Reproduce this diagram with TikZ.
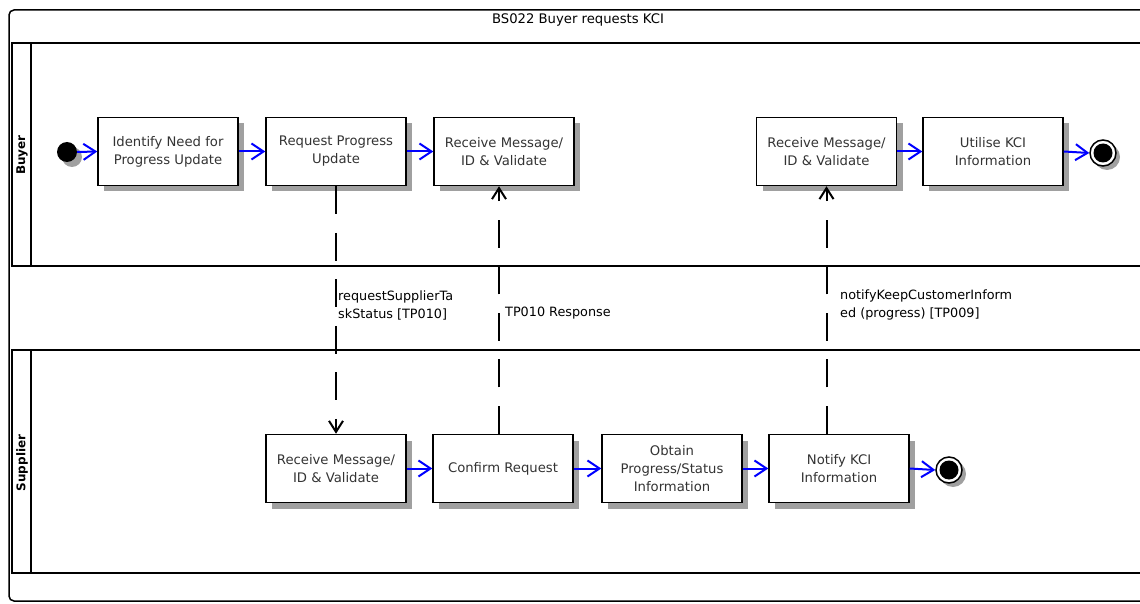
\documentclass[tikz,border=0pt]{standalone}
\usepackage{fontspec}
\setmainfont{DejaVu Sans}
\usetikzlibrary{arrows.meta,shadows,calc}
\definecolor{shadowgray}{RGB}{160,160,160}
\definecolor{flowblue}{RGB}{0,0,255}
\tikzset{
  act/.style={draw=black, line width=1.5pt, fill=white, minimum width=140pt, minimum height=68pt,
    inner sep=0pt, align=center, text=black!80, font=\fontsize{13.2}{18}\selectfont,
    execute at begin node={\vphantom{X}\\[-11pt]},
    drop shadow={shadow xshift=6pt, shadow yshift=-6pt, fill=shadowgray, opacity=1}},
  flow/.style={draw=flowblue, line width=2pt, -{Straight Barb[length=12pt,width=16pt,line width=2pt]}},
  msg/.style={draw=black, line width=2pt, dash pattern=on 28pt off 18.5pt, -{Straight Barb[length=11pt,width=14pt,line width=2pt]}},
  msglbl/.style={inner sep=0pt, anchor=west, align=left, text=black, font=\fontsize{12.8}{18}\selectfont},
  lanelbl/.style={rotate=90, inner sep=0pt, font=\bfseries\fontsize{12}{14}\selectfont},
  lane/.style={draw=black, line width=1.5pt},
  startnode/.style={circle, fill=black, minimum size=20pt, inner sep=0pt,
    drop shadow={shadow xshift=5pt, shadow yshift=-5pt, fill=shadowgray, opacity=1}},
  endnode/.style={circle, draw=black, line width=1.5pt, fill=white, minimum size=26pt, inner sep=0pt,
    drop shadow={shadow xshift=4pt, shadow yshift=-4pt, fill=shadowgray, opacity=1}}
}
\begin{document}
\begin{tikzpicture}[x=1pt,y=-1pt]
\useasboundingbox (0,0) rectangle (1140,604);
\clip (0,0) rectangle (1140,604);
% outer frame
\draw[line width=1.5pt, rounded corners=5pt] (9,10) rectangle (1170,601);
\node[font=\fontsize{13.2}{16}\selectfont] (title) at (578,20) {BS022 Buyer requests KCI};
% lanes
\draw[lane] (12,43) rectangle (1170,266);
\draw[lane] (31,43) -- (31,266);
\node[lanelbl] (buyerlbl) at (22,155) {Buyer};
\draw[lane] (12,350) rectangle (1170,573);
\draw[lane] (31,350) -- (31,573);
\node[lanelbl] (supplierlbl) at (22,463) {Supplier};
% buyer row
\node[startnode] (start) at (67,152) {};
\node[act] (idn) at (168,151.5) {Identify Need for\\Progress Update};
\node[act] (req) at (336,151.5) {Request Progress\\Update};
\node[act] (rcva) at (504,151.5) {Receive Message/\\ID \& Validate};
\node[act] (rcvb) at (826.5,151.5) {Receive Message/\\ID \& Validate};
\node[act] (util) at (993,151.5) {Utilise KCI\\Information};
\node[endnode] (enda) at (1103,153) {};
\fill[black] (enda.center) circle (9.5);
% supplier row
\node[act] (srcv) at (336,468.5) {Receive Message/\\ID \& Validate};
\node[act] (conf) at (503,468.5) {Confirm Request};
\node[act] (obt) at (672,468.5) {Obtain\\Progress/Status\\Information};
\node[act] (ntf) at (839,468.5) {Notify KCI\\Information};
\node[endnode] (endb) at (949,470) {};
\fill[black] (endb.center) circle (9.5);
% flows
\draw[flow] (start.east) -- (idn.west);
\draw[flow] (idn) -- (req);
\draw[flow] (req) -- (rcva);
\draw[flow] (rcvb) -- (util);
\draw[flow] (util.east) -- (enda.west);
\draw[flow] (srcv) -- (conf);
\draw[flow] (conf) -- (obt);
\draw[flow] (obt) -- (ntf);
\draw[flow] (ntf.east) -- (endb.west);
% messages
\draw[msg] (req.south) -- (srcv.north);
\draw[msg] ([xshift=-4pt]conf.north) -- ([xshift=-4pt]conf.north |- rcva.south);
\draw[msg] (rcvb.south |- ntf.north) -- (rcvb.south);
\node[msglbl] (lbla) at (338,305) {requestSupplierTa\\skStatus [TP010]};
\node[msglbl] (lblb) at (505,313) {TP010 Response};
\node[msglbl] (lblc) at (840,305) {notifyKeepCustomerInform\\ed (progress) [TP009]};
\end{tikzpicture}
\end{document}
